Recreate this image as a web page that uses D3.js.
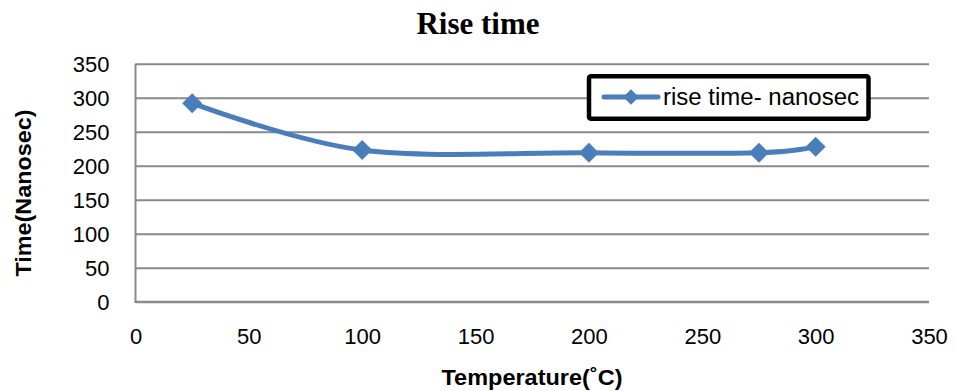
<!DOCTYPE html>
<html>
<head>
<meta charset="utf-8">
<script src="https://cdn.jsdelivr.net/npm/d3@7"></script>
<style>
  html, body { margin: 0; padding: 0; background: #fff; }
  svg { display: block; }
</style>
</head>
<body>
<svg id="chart" width="954" height="391"></svg>
<script>
// Rise time measured at each temperature
const temperatures = [25, 100, 200, 275, 300];
const riseTimes = [292, 223, 219, 219, 228];
const xTicks = [0, 50, 100, 150, 200, 250, 300, 350];
const yTicks = [0, 50, 100, 150, 200, 250, 300, 350];
const seriesName = "rise time- nanosec";

const width = 954, height = 391;
const plot = { left: 135.5, right: 929, top: 63.7, bottom: 301.7 };
const lineColor = "#4a7ebb";
const gridColor = "#8a8a8a";
const sansFont = "'Liberation Sans', Arial, sans-serif";

const svg = d3.select("#chart");
svg.append("rect").attr("width", width).attr("height", height).attr("fill", "#fff");

const x = d3.scaleLinear().domain([0, 350]).range([plot.left, plot.right]);
const y = d3.scaleLinear().domain([0, 350]).range([plot.bottom, plot.top]);

// Horizontal gridlines with value labels on the left
const yAxis = d3.axisLeft(y).tickValues(yTicks).tickSize(-(plot.right - plot.left)).tickPadding(26);
const gy = svg.append("g").attr("transform", `translate(${plot.left},0)`).call(yAxis);
gy.select(".domain").remove();
gy.selectAll(".tick line").attr("stroke", gridColor).attr("stroke-width", 2);
gy.selectAll(".tick text")
  .attr("font-family", sansFont).attr("font-size", 22).attr("fill", "#000")
  .attr("dy", "0.36em");

// Bottom tick labels (no tick marks)
const xAxis = d3.axisBottom(x).tickValues(xTicks).tickSize(0).tickPadding(27);
const gx = svg.append("g").attr("transform", `translate(0,${plot.bottom})`).call(xAxis);
gx.select(".domain").remove();
gx.selectAll(".tick text")
  .attr("font-family", sansFont).attr("font-size", 22).attr("fill", "#000");

// Axis lines
svg.append("line").attr("x1", plot.left).attr("x2", plot.left)
  .attr("y1", plot.top).attr("y2", plot.bottom + 1)
  .attr("stroke", gridColor).attr("stroke-width", 2);
svg.append("line").attr("x1", plot.left - 1).attr("x2", plot.right)
  .attr("y1", plot.bottom).attr("y2", plot.bottom)
  .attr("stroke", gridColor).attr("stroke-width", 2);

// Smoothed series line
const pts = temperatures.map((t, i) => [t, riseTimes[i]]);
const line = d3.line()
  .x(d => x(d[0])).y(d => y(d[1]))
  .curve(d3.curveCardinal.tension(0));
svg.append("path").datum(pts)
  .attr("d", line).attr("fill", "none")
  .attr("stroke", lineColor).attr("stroke-width", 5)
  .attr("stroke-linejoin", "round").attr("stroke-linecap", "round");

// Diamond markers
const diamond = d3.symbol().type(d3.symbolSquare).size(200);
svg.append("g").selectAll("path").data(pts).join("path")
  .attr("d", diamond)
  .attr("transform", d => `translate(${x(d[0])},${y(d[1])}) rotate(45)`)
  .attr("fill", lineColor);

// Title
svg.append("text")
  .attr("x", 478).attr("y", 34).attr("text-anchor", "middle")
  .attr("font-family", "'Liberation Serif', 'Times New Roman', serif")
  .attr("font-weight", "bold").attr("font-size", 31)
  .text("Rise time");

// Axis titles
svg.append("text")
  .attr("x", 532).attr("y", 385).attr("text-anchor", "middle")
  .attr("font-family", sansFont).attr("font-weight", "bold").attr("font-size", 22)
  .attr("textLength", 181).attr("lengthAdjust", "spacingAndGlyphs")
  .text("Temperature(˚C)");

svg.append("text")
  .attr("transform", "translate(31,193) rotate(-90)")
  .attr("text-anchor", "middle")
  .attr("font-family", sansFont).attr("font-weight", "bold").attr("font-size", 22)
  .attr("textLength", 167).attr("lengthAdjust", "spacingAndGlyphs")
  .text("Time(Nanosec)");

// Legend
const legend = svg.append("g");
legend.append("rect")
  .attr("x", 589).attr("y", 76.3).attr("width", 279.5).attr("height", 42.4)
  .attr("rx", 2).attr("fill", "#fff").attr("stroke", "#000").attr("stroke-width", 4.5);
legend.append("line")
  .attr("x1", 604).attr("x2", 658).attr("y1", 97).attr("y2", 97)
  .attr("stroke", lineColor).attr("stroke-width", 5).attr("stroke-linecap", "round");
legend.append("path")
  .attr("d", d3.symbol().type(d3.symbolSquare).size(120))
  .attr("transform", "translate(631,97) rotate(45)")
  .attr("fill", lineColor);
legend.append("text")
  .attr("x", 663).attr("y", 104.5)
  .attr("font-family", sansFont).attr("font-size", 23)
  .attr("textLength", 196).attr("lengthAdjust", "spacingAndGlyphs")
  .text(seriesName);
</script>
</body>
</html>
